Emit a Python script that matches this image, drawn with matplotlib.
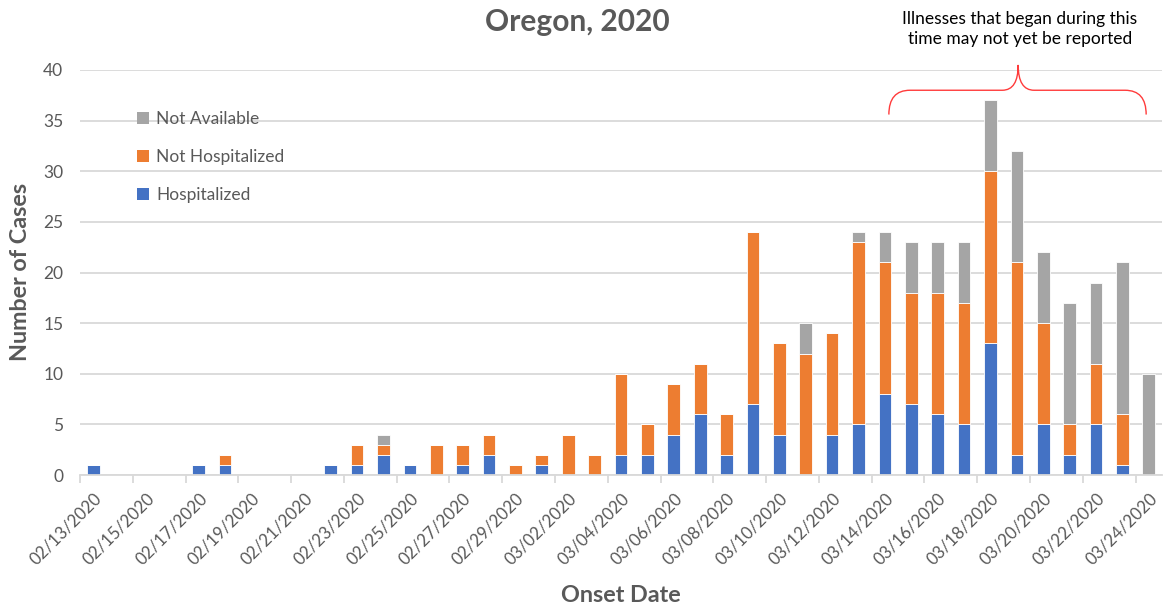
import matplotlib
matplotlib.use("Agg")
import matplotlib.pyplot as plt
from matplotlib.patches import Patch, PathPatch
from matplotlib.path import Path
import numpy as np
import datetime as dt

# ---------------- data ----------------
start = dt.date(2020, 2, 13)
dates = [start + dt.timedelta(days=k) for k in range(41)]
date_labels = [d.strftime("%m/%d/%Y") for d in dates]

hospitalized = [1, 0, 0, 0, 1, 1, 0, 0, 0, 1, 1, 2, 1, 0, 1, 2, 0, 1, 0, 0,
                2, 2, 4, 6, 2, 7, 4, 0, 4, 5, 8, 7, 6, 5, 13, 2, 5, 2, 5, 1, 0]
not_hospitalized = [0, 0, 0, 0, 0, 1, 0, 0, 0, 0, 2, 1, 0, 3, 2, 2, 1, 1, 4, 2,
                    8, 3, 5, 5, 4, 17, 9, 12, 10, 18, 13, 11, 12, 12, 17, 19, 10, 3, 6, 5, 0]
not_available = [0, 0, 0, 0, 0, 0, 0, 0, 0, 0, 0, 1, 0, 0, 0, 0, 0, 0, 0, 0,
                 0, 0, 0, 0, 0, 0, 0, 3, 0, 1, 3, 5, 5, 6, 7, 11, 7, 12, 8, 15, 10]

series_names = ["Hospitalized", "Not Hospitalized", "Not Available"]
colors = ["#4472C4", "#ED7D31", "#A5A5A5"]

title = "Oregon, 2020"
xlabel = "Onset Date"
ylabel = "Number of Cases"
note = "Illnesses that began during this\ntime may not yet be reported"

# ---------------- plot ----------------
plt.rcParams['font.family'] = ['Lato', 'DejaVu Sans']
txt = "#595959"
W, H = 1163, 610
fig = plt.figure(figsize=(W / 100, H / 100), dpi=100)
ax = fig.add_axes([80 / W, (H - 475) / H, 1082 / W, 405 / H])

x = np.arange(len(dates))
bottom = np.zeros(len(dates))
for vals, name, c in zip([hospitalized, not_hospitalized, not_available], series_names, colors):
    v = np.array(vals, dtype=float)
    ax.bar(x, v, bottom=bottom, width=0.48, color=c, edgecolor="white",
           linewidth=0.6, label=name, zorder=3)
    bottom += v

ax.set_xlim(-0.5, len(dates) - 0.5)
ax.set_ylim(0, 40)
ax.set_yticks(np.arange(0, 41, 5))
ax.yaxis.grid(True, color="#D9D9D9", linewidth=1.3, zorder=0)
ax.set_axisbelow(True)
for s in ["top", "right", "left"]:
    ax.spines[s].set_visible(False)
ax.spines["bottom"].set_color("#D9D9D9")
ax.spines["bottom"].set_linewidth(1.3)
ax.spines["bottom"].set_zorder(4)

ax.tick_params(axis="y", length=0, labelsize=12.5, labelcolor=txt, pad=12)
# major ticks at labelled categories (no tick marks), minor tick marks at boundaries
ax.set_xticks(x[::2])
ax.set_xticklabels(date_labels[::2], rotation=45, ha="right", va="top",
                   rotation_mode="anchor", fontsize=12.2, color=txt)
ax.tick_params(axis="x", which="major", length=0, pad=11)
ax.set_xticks(np.arange(-0.5, len(dates), 2), minor=True)
ax.tick_params(axis="x", which="minor", length=6, color="#D9D9D9", width=1.3)

fig.text(577 / W, 1 - 22 / H, title, ha="center", va="center", fontsize=21.5,
         fontweight="bold", color=txt)
fig.text(621 / W, 1 - 595 / H, xlabel, ha="center", va="center", fontsize=16.8,
         fontweight="bold", color=txt)
fig.text(21 / W, 1 - 272 / H, ylabel, ha="center", va="center", fontsize=16.8,
         fontweight="bold", color=txt, rotation=90)

handles = [Patch(facecolor=c, edgecolor="none") for c in colors][::-1]
labels = series_names[::-1]
leg = fig.legend(handles, labels, loc="upper left",
                 bbox_to_anchor=(130 / W, 1 - 104 / H),
                 frameon=False, fontsize=12.5, handlelength=0.7, handleheight=0.7,
                 handletextpad=0.4, labelspacing=1.28, borderaxespad=0)
for t in leg.get_texts():
    t.set_color(txt)

# brace annotation (in data coords along the x-axis categories)
x0, x1, xm = 30.15, 39.9, 35.05
yb, yh, yt = 35.6, 38.0, 40.5
verts = [(x0, yb), (x0, yh), (x0 + 0.8, yh),
         (xm - 0.6, yh), (xm, yh), (xm, yt),
         (xm, yh), (xm + 0.6, yh),
         (x1 - 0.8, yh), (x1, yh), (x1, yb)]
codes = [Path.MOVETO, Path.CURVE3, Path.CURVE3,
         Path.LINETO, Path.CURVE3, Path.CURVE3,
         Path.CURVE3, Path.CURVE3,
         Path.LINETO, Path.CURVE3, Path.CURVE3]
ax.add_patch(PathPatch(Path(verts, codes), facecolor="none", edgecolor="#FF3B3B",
                       linewidth=1.0, clip_on=False, zorder=5))
fig.text(1020 / W, 1 - 29 / H, note, ha="center", va="center", fontsize=12.5,
         color="black", linespacing=1.35)

fig.savefig("out.png", dpi=100)
